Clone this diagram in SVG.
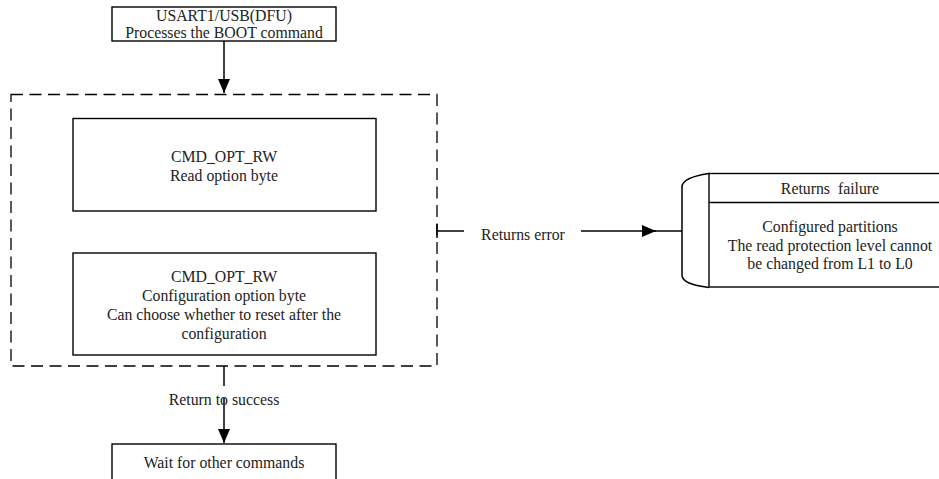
<svg xmlns="http://www.w3.org/2000/svg" width="939" height="479" viewBox="0 0 939 479">
<style>
.box{fill:#fff;stroke:#000;stroke-width:1.4}
.t{font-family:"Liberation Serif","Times New Roman",serif;font-size:15.8px;fill:#222;text-anchor:middle}
.ln{fill:none;stroke:#000;stroke-width:1.5}
.dash{fill:none;stroke:#000;stroke-width:1.3;stroke-dasharray:12 6.5}
</style>
<defs>
<marker id="ah" markerWidth="14" markerHeight="12" refX="14" refY="6" orient="auto" markerUnits="userSpaceOnUse">
<path d="M0,0 L14,6 L0,12 Z" fill="#000"/>
</marker>
</defs>
<rect width="939" height="479" fill="#fff"/>
<g id="group-options">
<rect class="dash" x="11" y="94.5" width="426" height="271.5"/>
</g>
<g id="connectors">
<line class="ln" x1="224" y1="41" x2="224" y2="93" marker-end="url(#ah)"/>
<line class="ln" x1="224" y1="366" x2="224" y2="386"/>
<line class="ln" x1="224" y1="398" x2="224" y2="443" marker-end="url(#ah)"/>
<line class="ln" x1="437" y1="224" x2="437" y2="238" stroke-width="1.3"/>
<line class="ln" x1="437" y1="231" x2="464" y2="231"/>
<line class="ln" x1="581" y1="231" x2="656" y2="231" marker-end="url(#ah)"/>
<line class="ln" x1="655" y1="231" x2="682" y2="231"/>
<text class="t" x="224" y="405">Return to success</text>
<text class="t" x="523" y="240">Returns error</text>
</g>
<g id="node-start">
<rect class="box" x="112" y="7" width="224" height="34"/>
<text class="t" x="224" y="21">USART1/USB(DFU)</text>
<text class="t" x="224" y="38">Processes the BOOT command</text>
</g>
<g id="node-read">
<rect class="box" x="73" y="118.5" width="303" height="92.5"/>
<text class="t" x="224" y="162">CMD_OPT_RW</text>
<text class="t" x="224" y="181">Read option byte</text>
</g>
<g id="node-config">
<rect class="box" x="73" y="253" width="303" height="102"/>
<text class="t" x="224" y="282">CMD_OPT_RW</text>
<text class="t" x="224" y="301">Configuration option byte</text>
<text class="t" x="224" y="320">Can choose whether to reset after the</text>
<text class="t" x="224" y="339">configuration</text>
</g>
<g id="node-wait">
<rect class="box" x="112" y="444" width="224" height="45"/>
<text class="t" x="224" y="468">Wait for other commands</text>
</g>
<g id="node-failure">
<path class="ln" d="M709,173.5 C692,176 682,180 682,187 L682,275 C682,282 692,285 709,287.5" stroke-width="1.4"/>
<rect class="box" x="709" y="173.5" width="245" height="113.5"/>
<line class="ln" x1="709" y1="202.5" x2="939" y2="202.5" stroke-width="1.4"/>
<text class="t" x="830" y="194" xml:space="preserve">Returns  failure</text>
<text class="t" x="830" y="232">Configured partitions</text>
<text class="t" x="830" y="251">The read protection level cannot</text>
<text class="t" x="830" y="269">be changed from L1 to L0</text>
</g>
</svg>
